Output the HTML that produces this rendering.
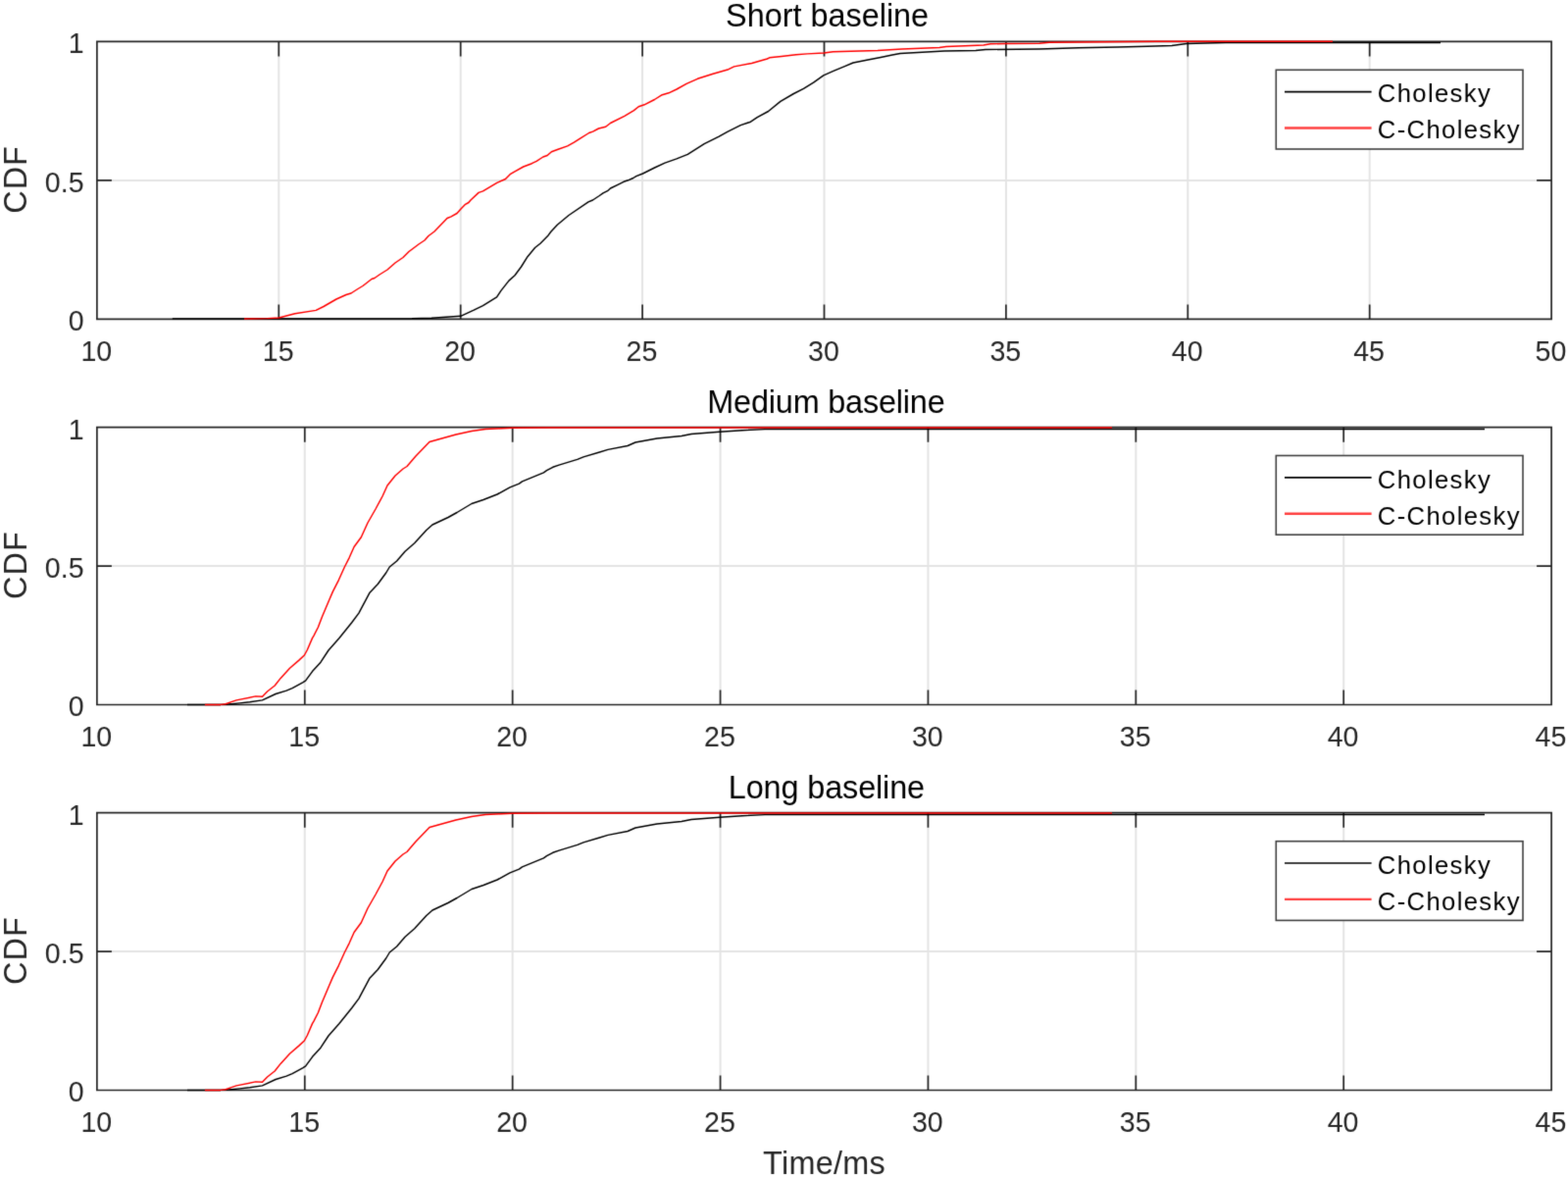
<!DOCTYPE html><html><head><meta charset="utf-8"><title>CDF</title><style>html,body{margin:0;padding:0;background:#fff;overflow:hidden;}svg{display:block;}text{font-family:"Liberation Sans",Arial,sans-serif;}</style></head><body>
<svg width="1599" height="1200" viewBox="0 0 1599 1200">
<defs><filter id="soft" filterUnits="userSpaceOnUse" x="0" y="0" width="1599" height="1200" color-interpolation-filters="sRGB"><feConvolveMatrix order="3" kernelMatrix="0.01134 0.08382 0.01134 0.08382 0.61935 0.08382 0.01134 0.08382 0.01134" edgeMode="duplicate"/></filter></defs>
<g filter="url(#soft)">
<rect width="1599" height="1200" fill="#fff"/>
<path d="M284.3 42.4V325.45M469.7 42.4V325.45M655.1 42.4V325.45M840.5 42.4V325.45M1025.9 42.4V325.45M1211.3 42.4V325.45M1396.7 42.4V325.45M98.9 183.92H1582.1" stroke="#e4e4e4" stroke-width="2.0" fill="none"/>
<path d="M98.9 42.4H1582.1V325.45H98.9ZM284.3 325.45V310.45M284.3 42.4V57.4M469.7 325.45V310.45M469.7 42.4V57.4M655.1 325.45V310.45M655.1 42.4V57.4M840.5 325.45V310.45M840.5 42.4V57.4M1025.9 325.45V310.45M1025.9 42.4V57.4M1211.3 325.45V310.45M1211.3 42.4V57.4M1396.7 325.45V310.45M1396.7 42.4V57.4M98.9 183.92H113.9M1582.1 183.92H1567.1" stroke="#262626" stroke-width="1.7" fill="none"/>
<polyline points="175.8,325 420,324.8 440,324.3 469.7,322.3 482.7,316.4 492.5,311.6 506.6,302.9 510.9,296.4 519,286.1 525,280.7 531.5,272 538,261.7 545.6,252.5 551,248.2 558.6,240.6 561.8,236.3 568.3,229.2 580,219.5 600,205.9 604.5,204 611.3,199.5 615,196.9 619.5,194.7 622.5,192 630,188.3 636,185.3 640.5,183.8 645.8,181.5 648.8,179.6 655.5,177 661.5,174 667.5,171 678,166.1 690,161.9 701.3,157.4 718.2,146.7 732.8,139.4 741.8,134.3 755.3,127.6 765.5,124.2 772.2,119.7 783.5,113.5 795.9,103.4 809.4,95.5 819.5,90.4 829.6,84.2 839.8,76.9 849.9,72.4 860.8,67.8 870,64 885,61 898,58.5 910,56 918,54.5 945,53 963,52 995,51.5 1005,50.5 1060,50 1100,48.8 1140,48 1170,47.3 1195,46.5 1210,44.5 1250,43.5 1469,43.5" fill="none" stroke="#000" stroke-width="1.45" stroke-linejoin="round"/>
<polyline points="249,325 272.6,324.6 284.4,324 300.8,319.7 322.2,316.4 330,312.5 343,305 353,300.5 358,299 365,294.5 370,291.5 379,284.5 382,283.5 387,280 395,275 403,268 411,262.5 417,256.5 427,249 433,245 437,240.5 443,236 456,222.5 460,220.8 466,217.5 470,213 474.1,208.7 477.9,206.5 480,204 488.1,196.4 492.5,194.9 506.8,186.3 515.5,182.5 520.2,177.7 525,174.8 533.7,170 542.3,166.7 547.1,164.3 553.8,160 558.1,158.5 562.4,154.7 569.1,152.3 578.7,148.9 585.4,145.1 592.1,140.8 600.7,135.5 604.6,134.1 610.5,131 617.7,129.3 622.5,125.5 636.8,118.3 646.4,112.6 651.2,108.7 657,106.8 667.5,101.5 675.2,96.7 681.9,94.8 690,91 700.1,85.4 711.4,80.3 727.2,75.2 742.9,70.7 748.6,67.9 766.6,64.5 782.3,60 784.7,58.8 796.9,57.5 811.8,55.8 823.2,54.9 840.3,54 849.5,52.7 895,51.5 920,50 958,48.5 965,47.5 1003,46 1010,44.8 1026,44.5 1060,44.3 1070,43.2 1180,42.3 1359,42.3" fill="none" stroke="#f00" stroke-width="1.45" stroke-linejoin="round"/>
<text transform="translate(98.3 367.55) scale(1 1.035)" font-size="28.6" fill="#262626" text-anchor="middle">10</text>
<text transform="translate(283.7 367.55) scale(1 1.035)" font-size="28.6" fill="#262626" text-anchor="middle">15</text>
<text transform="translate(469.1 367.55) scale(1 1.035)" font-size="28.6" fill="#262626" text-anchor="middle">20</text>
<text transform="translate(654.5 367.55) scale(1 1.035)" font-size="28.6" fill="#262626" text-anchor="middle">25</text>
<text transform="translate(839.9 367.55) scale(1 1.035)" font-size="28.6" fill="#262626" text-anchor="middle">30</text>
<text transform="translate(1025.3 367.55) scale(1 1.035)" font-size="28.6" fill="#262626" text-anchor="middle">35</text>
<text transform="translate(1210.7 367.55) scale(1 1.035)" font-size="28.6" fill="#262626" text-anchor="middle">40</text>
<text transform="translate(1396.1 367.55) scale(1 1.035)" font-size="28.6" fill="#262626" text-anchor="middle">45</text>
<text transform="translate(1581.5 367.55) scale(1 1.035)" font-size="28.6" fill="#262626" text-anchor="middle">50</text>
<text transform="translate(85.6 337.35) scale(1 1.035)" font-size="28.6" fill="#262626" text-anchor="end">0</text>
<text transform="translate(85.6 195.82) scale(1 1.035)" font-size="28.6" fill="#262626" text-anchor="end">0.5</text>
<text transform="translate(85.6 54.3) scale(1 1.035)" font-size="28.6" fill="#262626" text-anchor="end">1</text>
<text transform="translate(27.2 182.92) rotate(-90)" font-size="32.4" fill="#262626" text-anchor="middle" letter-spacing="1">CDF</text>
<text x="843.6" y="27.4" font-size="32.4" fill="#000" text-anchor="middle">Short baseline</text>
<rect x="1301.3" y="71.3" width="251.7" height="80.7" fill="#fff" stroke="#404040" stroke-width="1.6"/>
<line x1="1310" y1="93.6" x2="1398.6" y2="93.6" stroke="#000" stroke-width="1.7"/>
<line x1="1310" y1="130.5" x2="1398.6" y2="130.5" stroke="#ff4040" stroke-width="2.4"/>
<text x="1404.8" y="103.9" font-size="25.65" fill="#000" letter-spacing="1.35">Cholesky</text>
<text x="1404.8" y="140.6" font-size="25.65" fill="#000" letter-spacing="1.35">C-Cholesky</text>
<path d="M310.79 435.7V718.5M522.67 435.7V718.5M734.56 435.7V718.5M946.44 435.7V718.5M1158.33 435.7V718.5M1370.21 435.7V718.5M98.9 577.1H1582.1" stroke="#e4e4e4" stroke-width="2.0" fill="none"/>
<path d="M98.9 435.7H1582.1V718.5H98.9ZM310.79 718.5V703.5M310.79 435.7V450.7M522.67 718.5V703.5M522.67 435.7V450.7M734.56 718.5V703.5M734.56 435.7V450.7M946.44 718.5V703.5M946.44 435.7V450.7M1158.33 718.5V703.5M1158.33 435.7V450.7M1370.21 718.5V703.5M1370.21 435.7V450.7M98.9 577.1H113.9M1582.1 577.1H1567.1" stroke="#262626" stroke-width="1.7" fill="none"/>
<polyline points="190.9,718.4 225,718.4 230.8,718.2 244.5,716.9 254.7,715.8 267.5,713.9 281.1,707.5 292.1,704.1 298.1,701.6 309.1,695.6 311.7,693.9 318.5,684.6 327,675.2 335,663 346,650.5 358.7,634.8 365.9,625.1 376.8,604.6 385.3,595.5 393.7,584 397.3,578 404.6,572 413,562.3 422.7,553.8 434.8,540.5 441,535 457,527.5 466,522.5 481,513.5 493,509.5 507,504 520,496.9 529.4,493.1 532.5,490.9 554.4,481.9 557.5,479.7 563.8,476.3 570,474.1 588.8,468.4 595,465.9 610.6,461.3 620,458.4 640,454.5 648,451 670,447 680,446 695,444.5 705,442.5 734,440.3 757,438.8 780,437.6 1514,437.5" fill="none" stroke="#000" stroke-width="1.45" stroke-linejoin="round"/>
<polyline points="208.9,718.4 225,718.4 230.1,717.7 236,715.6 241.1,713.9 260.7,709.9 267.5,710.2 272.6,705 280.2,699 286.2,691.4 295.5,681.2 304.9,673.1 310.4,668 313.4,662.5 318.5,650.6 320,648.1 324.4,639.5 328.5,628.8 335.7,611.8 339.3,603.4 345.4,591.3 351.4,578 356.3,568.3 361.1,557.5 368.3,547.8 375,533 383,519 390,506 395,495 403,485 411,478 415,475.5 424,465 438,450.5 447,448 465,443 481,439.5 495,437.5 522.5,436.2 560,436 1134,436" fill="none" stroke="#f00" stroke-width="1.45" stroke-linejoin="round"/>
<text transform="translate(98.3 760.6) scale(1 1.035)" font-size="28.6" fill="#262626" text-anchor="middle">10</text>
<text transform="translate(310.19 760.6) scale(1 1.035)" font-size="28.6" fill="#262626" text-anchor="middle">15</text>
<text transform="translate(522.07 760.6) scale(1 1.035)" font-size="28.6" fill="#262626" text-anchor="middle">20</text>
<text transform="translate(733.96 760.6) scale(1 1.035)" font-size="28.6" fill="#262626" text-anchor="middle">25</text>
<text transform="translate(945.84 760.6) scale(1 1.035)" font-size="28.6" fill="#262626" text-anchor="middle">30</text>
<text transform="translate(1157.73 760.6) scale(1 1.035)" font-size="28.6" fill="#262626" text-anchor="middle">35</text>
<text transform="translate(1369.61 760.6) scale(1 1.035)" font-size="28.6" fill="#262626" text-anchor="middle">40</text>
<text transform="translate(1581.5 760.6) scale(1 1.035)" font-size="28.6" fill="#262626" text-anchor="middle">45</text>
<text transform="translate(85.6 730.4) scale(1 1.035)" font-size="28.6" fill="#262626" text-anchor="end">0</text>
<text transform="translate(85.6 589) scale(1 1.035)" font-size="28.6" fill="#262626" text-anchor="end">0.5</text>
<text transform="translate(85.6 447.6) scale(1 1.035)" font-size="28.6" fill="#262626" text-anchor="end">1</text>
<text transform="translate(27.2 576.1) rotate(-90)" font-size="32.4" fill="#262626" text-anchor="middle" letter-spacing="1">CDF</text>
<text x="842.4" y="420.7" font-size="32.4" fill="#000" text-anchor="middle" letter-spacing="-0.18">Medium baseline</text>
<rect x="1301.3" y="464.5" width="251.7" height="80.7" fill="#fff" stroke="#404040" stroke-width="1.6"/>
<line x1="1310" y1="486.8" x2="1398.6" y2="486.8" stroke="#000" stroke-width="1.7"/>
<line x1="1310" y1="523.7" x2="1398.6" y2="523.7" stroke="#ff4040" stroke-width="2.4"/>
<text x="1404.8" y="497.8" font-size="25.65" fill="#000" letter-spacing="1.35">Cholesky</text>
<text x="1404.8" y="534.5" font-size="25.65" fill="#000" letter-spacing="1.35">C-Cholesky</text>
<path d="M310.79 828.7V1111.5M522.67 828.7V1111.5M734.56 828.7V1111.5M946.44 828.7V1111.5M1158.33 828.7V1111.5M1370.21 828.7V1111.5M98.9 970.1H1582.1" stroke="#e4e4e4" stroke-width="2.0" fill="none"/>
<path d="M98.9 828.7H1582.1V1111.5H98.9ZM310.79 1111.5V1096.5M310.79 828.7V843.7M522.67 1111.5V1096.5M522.67 828.7V843.7M734.56 1111.5V1096.5M734.56 828.7V843.7M946.44 1111.5V1096.5M946.44 828.7V843.7M1158.33 1111.5V1096.5M1158.33 828.7V843.7M1370.21 1111.5V1096.5M1370.21 828.7V843.7M98.9 970.1H113.9M1582.1 970.1H1567.1" stroke="#262626" stroke-width="1.7" fill="none"/>
<polyline points="190.9,1111.4 225,1111.4 230.8,1111.2 244.5,1109.9 254.7,1108.8 267.5,1106.9 281.1,1100.5 292.1,1097.1 298.1,1094.6 309.1,1088.6 311.7,1086.9 318.5,1077.6 327,1068.2 335,1056 346,1043.5 358.7,1027.8 365.9,1018.1 376.8,997.6 385.3,988.5 393.7,977 397.3,971 404.6,965 413,955.3 422.7,946.8 434.8,933.5 441,928 457,920.5 466,915.5 481,906.5 493,902.5 507,897 520,889.9 529.4,886.1 532.5,883.9 554.4,874.9 557.5,872.7 563.8,869.3 570,867.1 588.8,861.4 595,858.9 610.6,854.3 620,851.4 640,847.5 648,844 670,840 680,839 695,837.5 705,835.5 734,833.3 757,831.8 780,830.6 1514,830.5" fill="none" stroke="#000" stroke-width="1.45" stroke-linejoin="round"/>
<polyline points="208.9,1111.4 225,1111.4 230.1,1110.7 236,1108.6 241.1,1106.9 260.7,1102.9 267.5,1103.2 272.6,1098 280.2,1092 286.2,1084.4 295.5,1074.2 304.9,1066.1 310.4,1061 313.4,1055.5 318.5,1043.6 320,1041.1 324.4,1032.5 328.5,1021.8 335.7,1004.8 339.3,996.4 345.4,984.3 351.4,971 356.3,961.3 361.1,950.5 368.3,940.8 375,926 383,912 390,899 395,888 403,878 411,871 415,868.5 424,858 438,843.5 447,841 465,836 481,832.5 495,830.5 522.5,829.2 560,829 1134,829" fill="none" stroke="#f00" stroke-width="1.45" stroke-linejoin="round"/>
<text transform="translate(98.3 1153.6) scale(1 1.035)" font-size="28.6" fill="#262626" text-anchor="middle">10</text>
<text transform="translate(310.19 1153.6) scale(1 1.035)" font-size="28.6" fill="#262626" text-anchor="middle">15</text>
<text transform="translate(522.07 1153.6) scale(1 1.035)" font-size="28.6" fill="#262626" text-anchor="middle">20</text>
<text transform="translate(733.96 1153.6) scale(1 1.035)" font-size="28.6" fill="#262626" text-anchor="middle">25</text>
<text transform="translate(945.84 1153.6) scale(1 1.035)" font-size="28.6" fill="#262626" text-anchor="middle">30</text>
<text transform="translate(1157.73 1153.6) scale(1 1.035)" font-size="28.6" fill="#262626" text-anchor="middle">35</text>
<text transform="translate(1369.61 1153.6) scale(1 1.035)" font-size="28.6" fill="#262626" text-anchor="middle">40</text>
<text transform="translate(1581.5 1153.6) scale(1 1.035)" font-size="28.6" fill="#262626" text-anchor="middle">45</text>
<text transform="translate(85.6 1123.4) scale(1 1.035)" font-size="28.6" fill="#262626" text-anchor="end">0</text>
<text transform="translate(85.6 982) scale(1 1.035)" font-size="28.6" fill="#262626" text-anchor="end">0.5</text>
<text transform="translate(85.6 840.6) scale(1 1.035)" font-size="28.6" fill="#262626" text-anchor="end">1</text>
<text transform="translate(27.2 969.1) rotate(-90)" font-size="32.4" fill="#262626" text-anchor="middle" letter-spacing="1">CDF</text>
<text x="842.9" y="813.7" font-size="32.4" fill="#000" text-anchor="middle" letter-spacing="-0.12">Long baseline</text>
<rect x="1301.3" y="857.7" width="251.7" height="80.7" fill="#fff" stroke="#404040" stroke-width="1.6"/>
<line x1="1310" y1="880" x2="1398.6" y2="880" stroke="#000" stroke-width="1.7"/>
<line x1="1310" y1="916.9" x2="1398.6" y2="916.9" stroke="#ff4040" stroke-width="2.4"/>
<text x="1404.8" y="891" font-size="25.65" fill="#000" letter-spacing="1.35">Cholesky</text>
<text x="1404.8" y="927.7" font-size="25.65" fill="#000" letter-spacing="1.35">C-Cholesky</text>
<text x="840.6" y="1196.8" font-size="32.4" fill="#262626" text-anchor="middle" letter-spacing="0.3">Time/ms</text>
</g>
</svg></body></html>
